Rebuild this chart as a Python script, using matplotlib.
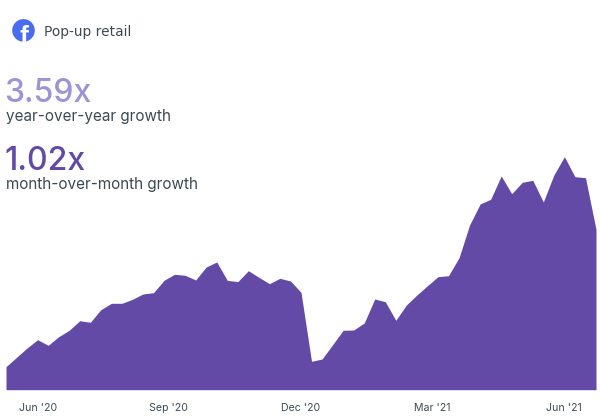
import matplotlib
matplotlib.use('Agg')
import matplotlib.pyplot as plt
from matplotlib.patches import Circle

# weekly values (height above baseline)
values = [23.0, 32.4, 41.7, 50.0, 44.4, 53.0, 59.4, 69.0, 67.4, 80.0,
          86.4, 86.4, 90.4, 95.7, 97.0, 109.4, 115.4, 114.4, 109.7, 122.7,
          127.7, 109.4, 108.0, 119.0, 112.4, 106.0, 111.4, 108.7, 97.4, 28.4,
          30.7, 45.0, 59.4, 59.7, 66.7, 90.7, 88.0, 69.4, 84.7, 94.7,
          104.0, 113.0, 114.0, 132.0, 164.7, 185.7, 190.4, 213.7, 196.0, 207.4,
          209.4, 187.7, 214.7, 233.0, 213.0, 212.0, 160.4]
tick_pos = [3, 15.46, 28, 40.46, 52.95]
tick_labels = ["Jun '20", "Sep '20", "Dec '20", "Mar '21", "Jun '21"]

title = 'Pop-up retail'
yoy_value = '3.59x'
yoy_label = 'year-over-year growth'
mom_value = '1.02x'
mom_label = 'month-over-month growth'

purple = '#634aa6'
light_purple = '#9c94d4'
text_color = '#3c4a52'
fb_blue = '#4a6cf0'

W, H = 600, 417
plt.rcParams['font.family'] = ['Inter', 'Lato', 'DejaVu Sans']

fig = plt.figure(figsize=(W / 100, H / 100), dpi=100)

# chart area
base = 389.7
top = 156.7
ax = fig.add_axes([6 / W, 1 - base / H, 590 / W, (base - top) / H])
x = list(range(len(values)))
ax.fill_between(x, 0, values, color=purple, linewidth=0)
ax.set_xlim(0, len(values) - 1)
ax.set_ylim(0, 233)
for s in ax.spines.values():
    s.set_visible(False)
ax.set_yticks([])
ax.set_xticks(tick_pos)
ax.set_xticklabels(tick_labels, fontsize=7.6, color=text_color)
ax.tick_params(axis='x', length=0, pad=9.5)

# header text, in pixel coords
ov = fig.add_axes([0, 0, 1, 1])
ov.set_xlim(0, W)
ov.set_ylim(H, 0)
ov.axis('off')
ov.patch.set_alpha(0)

# logo: the f runs off the bottom of the circle
logo = Circle((23.5, 30.4), 11.3, color=fb_blue, lw=0)
ov.add_patch(logo)
f = ov.text(24.3, 43.5, 'f', fontsize=19, fontweight='bold', color='white',
            ha='center', va='baseline', family=['Liberation Sans'])
f.set_clip_path(logo)

ov.text(44, 31.5, title, fontsize=9.9, color=text_color, va='center',
        family=['DejaVu Sans'])

ov.text(4, 101.5, yoy_value, fontsize=23, fontweight=500, color=light_purple, va='baseline')
ov.text(6, 121, yoy_label, fontsize=11, color=text_color, va='baseline')
ov.text(4, 169.5, mom_value, fontsize=23, fontweight=500, color=purple, va='baseline')
ov.text(6, 189, mom_label, fontsize=11, color=text_color, va='baseline')

fig.savefig('out.png', dpi=100)
